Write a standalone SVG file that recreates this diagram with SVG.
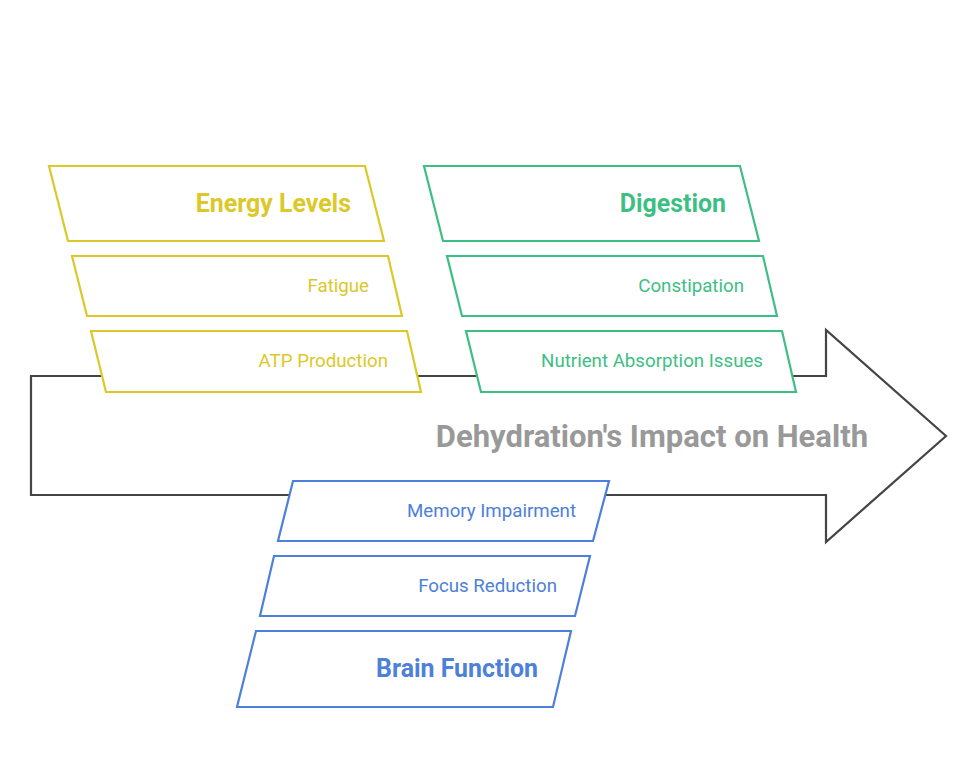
<svg xmlns="http://www.w3.org/2000/svg" width="978" height="769" viewBox="0 0 978 769">
<style>
.y{stroke:#dcc828;fill:#fff;stroke-width:2.2}
.g{stroke:#3dbf84;fill:#fff;stroke-width:2.2}
.b{stroke:#4d80d9;fill:#fff;stroke-width:2.2}
text{font-family:Roboto,"Liberation Sans",sans-serif;text-anchor:end}
.ty{fill:#dcc828}.tg{fill:#3dbf84}.tb{fill:#4d80d9}
.h{font-size:24.9px;font-weight:bold}
.s{font-size:18.7px}
</style>
<rect width="978" height="769" fill="#fff"/>
<g id="connectors">
<path id="main-arrow" d="M31,376 H826 V330 L946,436 L826,542 V495 H31 Z" fill="#fff" stroke="#444" stroke-width="2.2"/>
</g>
<text id="title" x="868" y="447" style="font-size:31px;font-weight:bold;fill:#999">Dehydration's Impact on Health</text>
<g id="energy-levels"><polygon class="y" points="49,166 365,166 384,241 68,241"/><text class="ty h" x="351" y="212">Energy Levels</text></g>
<g id="fatigue"><polygon class="y" points="72,256 388,256 402,316 87,316"/><text class="ty s" x="369" y="292">Fatigue</text></g>
<g id="atp-production"><polygon class="y" points="91,331 407,331 421,392 106,392"/><text class="ty s" x="388" y="367">ATP Production</text></g>
<g id="digestion"><polygon class="g" points="424,166 740,166 759,241 443,241"/><text class="tg h" x="726" y="212">Digestion</text></g>
<g id="constipation"><polygon class="g" points="447,256 763,256 777,316 462,316"/><text class="tg s" x="744" y="292">Constipation</text></g>
<g id="nutrient-absorption"><polygon class="g" points="466,331 782,331 796,392 481,392"/><text class="tg s" x="763" y="367">Nutrient Absorption Issues</text></g>
<g id="memory-impairment"><polygon class="b" points="293,481 609,481 593,541 278,541"/><text class="tb s" x="576" y="517">Memory Impairment</text></g>
<g id="focus-reduction"><polygon class="b" points="274,556 590,556 575,616 260,616"/><text class="tb s" x="557" y="592">Focus Reduction</text></g>
<g id="brain-function"><polygon class="b" points="256,631 571,631 553,707 237,707"/><text class="tb h" x="538" y="677">Brain Function</text></g>
</svg>
